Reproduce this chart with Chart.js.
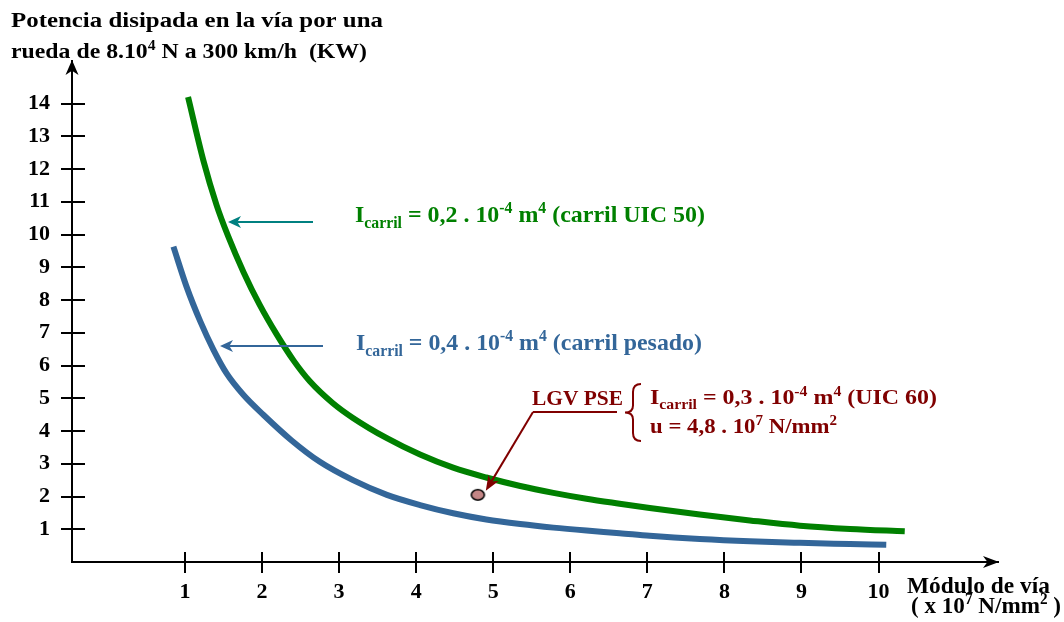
<!DOCTYPE html>
<html>
<head>
<meta charset="utf-8">
<script src="https://cdn.jsdelivr.net/npm/chart.js@4.4.1/dist/chart.umd.min.js"></script>
<style>
  html, body { margin: 0; padding: 0; background: #ffffff; }
  canvas { display: block; }
</style>
</head>
<body>
<canvas id="chart" width="1064" height="622"></canvas>
<script>
// Power dissipated in the track vs. track modulus, for two rail sections
const greenX = [1.04, 1.24, 1.41, 1.56, 1.76, 1.97, 2.19, 2.41, 2.62, 2.92, 3.18, 3.62, 4.05, 4.48, 4.91, 5.35, 5.78, 6.21, 6.64, 7.03, 7.68, 8.33, 8.98, 9.63, 10.34];
const greenY = [14.2, 12.25, 10.90, 9.95, 8.85, 7.85, 6.95, 6.15, 5.52, 4.85, 4.40, 3.78, 3.28, 2.88, 2.58, 2.32, 2.11, 1.93, 1.78, 1.65, 1.45, 1.27, 1.11, 1.01, 0.94];

const blueX = [0.85, 1.02, 1.20, 1.37, 1.54, 1.76, 2.02, 2.38, 2.75, 3.18, 3.62, 4.05, 4.48, 4.91, 5.35, 5.78, 6.21, 6.64, 7.03, 7.68, 8.33, 8.98, 9.63, 10.10];
const blueY = [9.63, 8.41, 7.34, 6.48, 5.76, 5.10, 4.49, 3.72, 3.06, 2.50, 2.05, 1.74, 1.49, 1.30, 1.16, 1.05, 0.96, 0.88, 0.80, 0.70, 0.63, 0.585, 0.55, 0.525];

// LGV PSE operating point (u = 4,8 . 10^7 N/mm2)
const lgvX = [4.8];
const lgvY = [2.05];

const xTickValues = [1, 2, 3, 4, 5, 6, 7, 8, 9, 10];
const yTickValues = [1, 2, 3, 4, 5, 6, 7, 8, 9, 10, 11, 12, 13, 14];

const GREEN = '#008000';
const BLUE = '#336699';
const TEAL = '#008080';
const MAROON = '#800000';
const FONT = '"Liberation Serif", "Times New Roman", serif';

const toPoints = (xs, ys) => xs.map((x, i) => ({ x: x, y: ys[i] }));

// elliptical marker for the LGV PSE point
const dotMarker = document.createElement('canvas');
dotMarker.width = 17; dotMarker.height = 14;
(function () {
  const c = dotMarker.getContext('2d');
  c.beginPath();
  c.ellipse(8.5, 7, 6.5, 5.2, 0, 0, Math.PI * 2);
  c.fillStyle = '#c48686';
  c.fill();
  c.lineWidth = 1.6;
  c.strokeStyle = '#000';
  c.stroke();
})();

// rich text: parts are [text, mode] with mode '', 'sub' or 'sup'
function richWidth(ctx, parts, size) {
  let w = 0;
  for (const [t, m] of parts) {
    const s = m ? size * 0.66 : size;
    ctx.font = 'bold ' + s + 'px ' + FONT;
    w += ctx.measureText(t).width;
  }
  return w;
}
function drawRich(ctx, x, y, parts, size, color, targetWidth) {
  const w = richWidth(ctx, parts, size);
  const sx = targetWidth ? targetWidth / w : 1;
  ctx.save();
  ctx.translate(x, y);
  ctx.scale(sx, 1);
  ctx.fillStyle = color;
  ctx.textBaseline = 'alphabetic';
  ctx.textAlign = 'left';
  let cx = 0;
  for (const [t, m] of parts) {
    const s = m ? size * 0.66 : size;
    ctx.font = 'bold ' + s + 'px ' + FONT;
    const dy = m === 'sub' ? size * 0.25 : (m === 'sup' ? -size * 0.36 : 0);
    ctx.fillText(t, cx, dy);
    cx += ctx.measureText(t).width;
  }
  ctx.restore();
}

function arrowHead(ctx, tipX, tipY, fromX, fromY, len, half, color) {
  const a = Math.atan2(tipY - fromY, tipX - fromX);
  ctx.save();
  ctx.translate(tipX, tipY);
  ctx.rotate(a);
  ctx.beginPath();
  ctx.moveTo(0, 0);
  ctx.lineTo(-len, -half);
  ctx.lineTo(-len * 0.72, 0);
  ctx.lineTo(-len, half);
  ctx.closePath();
  ctx.fillStyle = color;
  ctx.fill();
  ctx.restore();
}

function arrow(ctx, x0, y0, x1, y1, color, lw, len, half) {
  const a = Math.atan2(y1 - y0, x1 - x0);
  ctx.save();
  ctx.strokeStyle = color;
  ctx.lineWidth = lw;
  ctx.beginPath();
  ctx.moveTo(x0, y0);
  ctx.lineTo(x1 - Math.cos(a) * len * 0.7, y1 - Math.sin(a) * len * 0.7);
  ctx.stroke();
  ctx.restore();
  arrowHead(ctx, x1, y1, x0, y0, len, half, color);
}

const decorations = {
  id: 'decorations',
  afterDraw(chart) {
    const ctx = chart.ctx;
    const xs = chart.scales.x, ys = chart.scales.y;
    const ax = chart.chartArea.left, ay = chart.chartArea.bottom;
    const right = chart.chartArea.right, top = chart.chartArea.top;

    ctx.save();
    // crossing tick marks
    ctx.strokeStyle = '#000';
    ctx.lineWidth = 2;
    ctx.beginPath();
    for (const v of yTickValues) {
      const p = Math.round(ys.getPixelForValue(v));
      ctx.moveTo(ax - 11, p); ctx.lineTo(ax + 13, p);
    }
    for (const v of xTickValues) {
      const p = Math.round(xs.getPixelForValue(v));
      ctx.moveTo(p, ay - 10); ctx.lineTo(p, ay + 11);
    }
    ctx.stroke();
    // axis arrowheads
    arrowHead(ctx, ax, top - 1, ax, top + 30, 15, 6.5, '#000');
    arrowHead(ctx, right + 1, ay, right - 30, ay, 16, 6, '#000');
    ctx.restore();

    // title of the value axis
    drawRich(ctx, 11, 27, [['Potencia disipada en la vía por una', '']], 22, '#000', 372);
    drawRich(ctx, 11, 58, [['rueda de 8.10', ''], ['4', 'sup'], [' N a 300 km/h  (KW)', '']], 22, '#000', 356);

    // title of the modulus axis
    drawRich(ctx, 907, 593, [['Módulo de vía', '']], 24, '#000', 143);
    drawRich(ctx, 911, 613, [['( x 10', ''], ['7', 'sup'], [' N/mm', ''], ['2', 'sup'], [' )', '']], 24, '#000', 150);

    // rail labels with pointers
    arrow(ctx, 313, 222, 228, 222, TEAL, 2, 13, 6);
    drawRich(ctx, 355, 222, [['I', ''], ['carril', 'sub'], [' = 0,2 . 10', ''], ['-4', 'sup'], [' m', ''], ['4', 'sup'], [' (carril UIC 50)', '']], 24, GREEN, 350);

    arrow(ctx, 323, 346, 220, 346, BLUE, 2, 13, 6);
    drawRich(ctx, 356, 350, [['I', ''], ['carril', 'sub'], [' = 0,4 . 10', ''], ['-4', 'sup'], [' m', ''], ['4', 'sup'], [' (carril pesado)', '']], 24, BLUE, 346);

    // LGV PSE callout
    const px = xs.getPixelForValue(lgvX[0]);
    const py = ys.getPixelForValue(lgvY[0]);
    drawRich(ctx, 532, 405, [['LGV PSE', '']], 20, MAROON, 91);
    ctx.save();
    ctx.strokeStyle = MAROON;
    ctx.lineWidth = 2;
    ctx.beginPath();
    ctx.moveTo(617, 412); ctx.lineTo(533, 412);
    ctx.stroke();
    ctx.restore();
    arrow(ctx, 533, 412, px + 8, py - 4, MAROON, 2, 15, 6);

    // brace
    ctx.save();
    ctx.strokeStyle = MAROON;
    ctx.lineWidth = 2;
    const bx = 641, bt = 384, bb = 441, bm = 412.5, d = 8;
    ctx.beginPath();
    ctx.moveTo(bx, bt);
    ctx.quadraticCurveTo(bx - d, bt, bx - d, bt + 8);
    ctx.lineTo(bx - d, bm - 7);
    ctx.quadraticCurveTo(bx - d, bm, bx - 2 * d, bm);
    ctx.quadraticCurveTo(bx - d, bm, bx - d, bm + 7);
    ctx.lineTo(bx - d, bb - 8);
    ctx.quadraticCurveTo(bx - d, bb, bx, bb);
    ctx.stroke();
    ctx.restore();

    drawRich(ctx, 650, 404, [['I', ''], ['carril', 'sub'], [' = 0,3 . 10', ''], ['-4', 'sup'], [' m', ''], ['4', 'sup'], [' (UIC 60)', '']], 21, MAROON, 287);
    drawRich(ctx, 650, 433, [['u = 4,8 . 10', ''], ['7', 'sup'], [' N/mm', ''], ['2', 'sup']], 21, MAROON, 187);
  }
};

new Chart(document.getElementById('chart'), {
  type: 'line',
  data: {
    datasets: [
      {
        data: toPoints(greenX, greenY),
        borderColor: GREEN,
        borderWidth: 6,
        pointRadius: 0,
        cubicInterpolationMode: 'monotone',
        fill: false,
        order: 2
      },
      {
        data: toPoints(blueX, blueY),
        borderColor: BLUE,
        borderWidth: 6,
        pointRadius: 0,
        cubicInterpolationMode: 'monotone',
        fill: false,
        order: 3
      },
      {
        type: 'scatter',
        data: toPoints(lgvX, lgvY),
        pointStyle: dotMarker,
        pointRadius: 7,
        order: 1
      }
    ]
  },
  options: {
    responsive: false,
    animation: false,
    devicePixelRatio: 1,
    layout: { padding: { top: 61, right: 66, left: 0, bottom: 0 } },
    plugins: { legend: { display: false }, tooltip: { enabled: false } },
    scales: {
      x: {
        type: 'linear',
        min: -0.466,
        max: 11.55,
        afterFit(s) { s.height = 60; },
        afterBuildTicks(s) { s.ticks = xTickValues.map(v => ({ value: v })); },
        grid: { drawOnChartArea: false, drawTicks: false },
        border: { display: true, color: '#000', width: 2 },
        ticks: {
          color: '#000',
          font: { family: FONT, size: 22, weight: 'bold' },
          padding: 17,
          maxRotation: 0,
          autoSkip: false
        }
      },
      y: {
        min: 0,
        max: 15.3,
        afterFit(s) { s.width = 72; },
        afterBuildTicks(s) { s.ticks = yTickValues.map(v => ({ value: v })); },
        grid: { drawOnChartArea: false, drawTicks: false },
        border: { display: true, color: '#000', width: 2 },
        ticks: {
          color: '#000',
          font: { family: FONT, size: 22, weight: 'bold' },
          padding: 22,
          autoSkip: false
        }
      }
    }
  },
  plugins: [decorations]
});
</script>
</body>
</html>
